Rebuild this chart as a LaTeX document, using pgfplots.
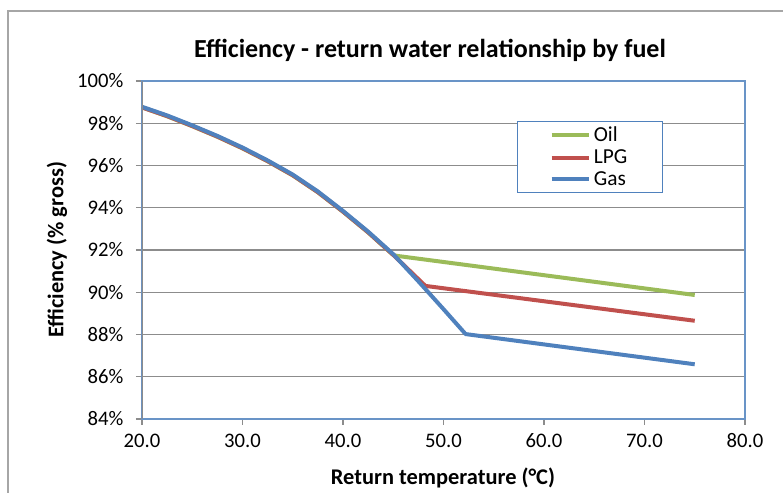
\documentclass[border=0pt]{standalone}
\usepackage{pgfplots}
\pgfplotsset{compat=1.18}
\usepackage{fontspec}
\setmainfont{Carlito}
\definecolor{oilc}{HTML}{9BBB59}
\definecolor{lpgc}{HTML}{C0504D}
\definecolor{gasc}{HTML}{4F81BD}
\definecolor{gridc}{HTML}{8C8C8C}
\definecolor{framec}{HTML}{A6A6A6}
\begin{document}
\begin{tikzpicture}[x=1pt,y=1pt]
\begin{axis}[
  scale only axis, width=452.25pt, height=253.5pt,
  xmin=20, xmax=80, ymin=84, ymax=100,
  xtick={20,30,...,80}, ytick={84,86,...,100},
  ymajorgrids, grid style={gridc, line width=0.9pt},
  axis line style={gasc!85, line width=0.8pt},
  tick style={gridc, line width=0.8pt},
  tick align=outside, major tick length=4.5pt,
  xtick pos=bottom, ytick pos=left,
  /pgf/number format/assume math mode=true,
  ticklabel style={font=\fontsize{15.5}{18}\selectfont},
  yticklabel={\pgfmathprintnumber{\tick}\%},
  yticklabel style={xshift=-6pt},
  xticklabel style={yshift=-3pt, /pgf/number format/.cd, fixed, fixed zerofill, precision=1},
  legend style={at={(0.622,0.882)}, anchor=north west, draw=gasc, line width=0.8pt,
    font=\fontsize{16}{18}\selectfont, inner xsep=24pt, inner ysep=2pt, row sep=0pt,
    nodes={inner sep=2.2pt}},
  legend cell align=left,
  legend image code/.code={\draw[#1] (0pt,0pt) -- (28pt,0pt);},
  every axis plot/.append style={line width=3pt, line join=round, no marks},
]
\addplot[oilc] coordinates {
(20,98.75) (22.5,98.33) (25,97.86) (27.5,97.36) (30,96.81) (32.5,96.2) (35,95.53) (37.5,94.73) (40,93.81) (42.5,92.83) (45,91.76) (45.4,91.72) (75,89.87)};
\addlegendentry{Oil}
\addplot[lpgc] coordinates {
(20,98.75) (22.5,98.34) (25,97.87) (27.5,97.37) (30,96.82) (32.5,96.21) (35,95.54) (37.5,94.74) (40,93.82) (42.5,92.84) (45,91.77) (47.5,90.62) (48.2,90.3) (75,88.65)};
\addlegendentry{LPG}
\addplot[gasc] coordinates {
(20,98.78) (22.5,98.37) (25,97.9) (27.5,97.4) (30,96.85) (32.5,96.24) (35,95.57) (37.5,94.77) (40,93.85) (42.5,92.87) (45,91.8) (47.5,90.52) (50,89.2) (52.2,88.02) (75,86.59)};
\addlegendentry{Gas}
\draw[gridc, line width=0.8pt] (rel axis cs:0,0) -- (rel axis cs:0,1);
\coordinate (SW) at (rel axis cs:0,0);
\end{axis}
\path (SW) ++(-106.5,-55.5) coordinate (O);
\pgfresetboundingbox
\useasboundingbox (O) rectangle ++(587.25,369.75);
\begin{scope}[shift={(O)}]
\draw[framec, line width=1.2pt] (6,-2) -- (6,361.5) -- (592,361.5);
\node[font=\fontsize{19.5}{22}\bfseries] at (322.5,332.25) {Efficiency - return water relationship by fuel};
\node[font=\fontsize{16.8}{18}\bfseries] at (332.25,11.5) {Return temperature (°C)};
\node[font=\fontsize{16.8}{18}\bfseries, rotate=90] at (42.75,182.25) {Efficiency (\% gross)};
\end{scope}
\end{tikzpicture}
\end{document}
